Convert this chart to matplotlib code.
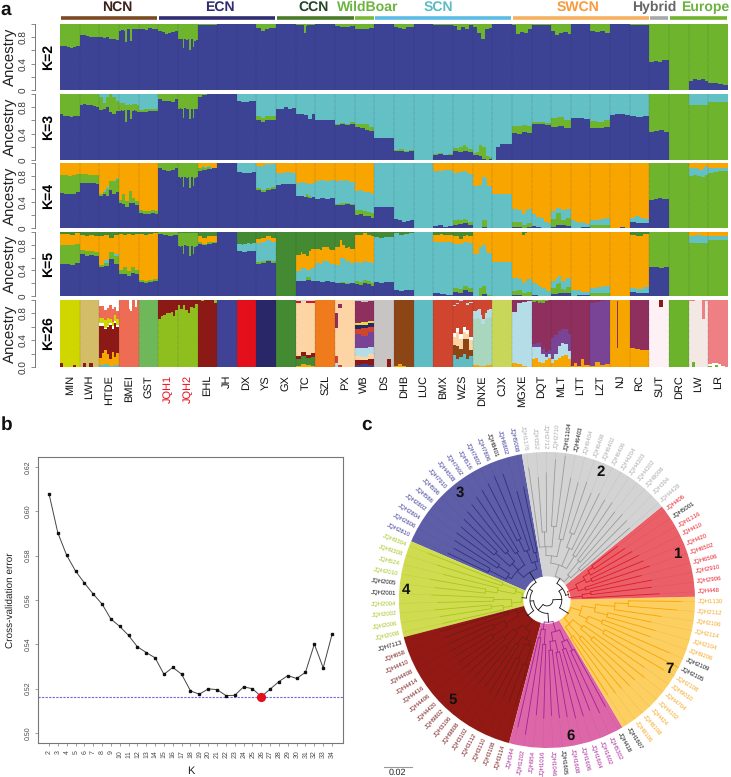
import numpy as np
import matplotlib
matplotlib.use("Agg")
import matplotlib.pyplot as plt
from matplotlib.patches import Wedge

plt.rcParams['font.family'] = ['Liberation Sans', 'DejaVu Sans']
plt.rcParams['text.hinting'] = 'no_hinting'
plt.rcParams['text.hinting_factor'] = 1

W, H = 731, 777

populations = ["MIN","LWH","HTDE","BMEI","GST","JQH1","JQH2","EHL","JH","DX","YS","GX","TC","SZL","PX","WB","DS",
               "DHB","LUC","BMX","WZS","DNXE","CJX","MGXE","DQT","MLT","LTT","LZT","NJ","RC","SUT","DRC","LW","LR"]
red_populations = ["JQH1", "JQH2"]

groups = ["NCN","ECN","CCN","WildBoar","SCN","SWCN","Hybrid","Europe"]
group_starts = [0,5,11,15,16,23,30,31]
group_ends = [5,11,15,16,23,30,31,34]
group_bar_colors = ["#7a4a22","#2f2d70","#4a7a2a","#7ab83a","#5bbce6","#f5b060","#a8a8a8","#6eb42d"]
group_text_colors = ["#3f2018","#2f2d70","#24452a","#6cb33f","#5bbcc4","#f79a3a","#666666","#6cb33f"]
group_text_x = [117,220,314,368,438,578,654,705]

BLUE, GREEN, TEAL, ORANGE, DGREEN = "#3d4394", "#6eb42d", "#63c0c4", "#f8a500", "#438a32"

# Thickness of each layer, one entry per population (a list = sample by sample)
K2_blue = [[.67,.66,.65,.64,.65,.67],[.84,.83,.82,.80,.81,.80],[.80,.79,.81,.78,.78,.76],
           [.90,.91,.91,.90,.72,.92,.92,.75,.92,.93,.92,.92],
           [.92,.93,.91,.94,.92,.93],[.90,.88,.85,.87,.88,.90],[.77,.78,.78,.63,.77,.76,.77,.61,.77,.65,.75,.76],[.98,.98,.99,.98],1,1,
           [.94,.90,.93,.94,.94],1,[.99,.99,.99,.99,.99,.86,.97,.98,.99,.99,.99,.99],1,[.97,.96,.96,.97],[.93,.93,.93,.94],1,
           [.96,.94,.93,.95,.96],1,[.98,.98,.99],[.97,.91,.96,.93,.98],[.95,.87,.78,.92,.94],1,[.99,.85,.88,.87,.92],
           [.98,.99],[.90,.83,.86,.88,.85],1,[.89,.88,.89,.87],1,.99,[.42,.44,.43,.46,.45],0,[.13,.16,.15,.17,.14],[.10,.11,.09,.08]]

K3_blue = [[.69,.67,.66,.65,.66,.67],[.84,.85,.84,.83,.82,.81],[.76,.78,.80,.72,.70,.74],
           [.74,.75,.74,.75,.58,.76,.76,.62,.74,.75,.74,.72],
           [.72,.73,.74,.74],[.92,.90,.90,.88,.92],[.78,.79,.78,.63,.79,.78,.77,.62,.78,.64,.77,.78],[.96,.98,1,1],1,[.89,.88,.88,.89,.90],
           [.60,.58,.60,.61,.60],[.77,.78,.80,.78,.79],[.69,.70,.68,.62,.70],[.60,.60,.61,.60],[.53,.54,.53,.55],
           [.50,.48,.46,.44],[.34,.33,.34,.33],[.13,.14,.12,.13],0,[.08,.09,.07,.08],[.13,.12,.14,.12],
           [.08,.08,.06,.02,0,.02],[0,.20,.25,.25,.24],[.41,.40,.42,.41],[.54,.55,.53],[.50,.51,.49],[.63,.64,.62],
           [.49,.48,.50],[.68,.69,.70,.68],[.66,.65,.66],[.42,.44,.45,.43],0,0,0]
K3_green = [1,1,[.20,.08,.15,.28,.25,.15],[.12,.11,.12,.11,.26,.08,.09,.22,.11,.10,.11,.12],.04,1,1,[.04,.02,0,0],0,0,.06,0,0,0,.02,
            [.05,.07,.09,.06],0,.02,0,.01,[.05,.08,.05],[.02,.04,.16,.18,.06,.02],0,.11,.03,[.13,.14,.12],0,.10,0,0,1,1,.83,.88]

K4_blue = [[.54,.53,.52,.53,.55],[.70,.70,.69,.69,.68],[.50,.52,.50,.58,.52,.55],[.38,.37,.33,.39,.38,.36],
           [.23,.22,.22,.23,.22],[.92,.90,.88,.90,.92],[.78,.77,.78,.63,.78,.77,.78,.62,.78,.65,.77,.78],[.88,.90,.91,.92],1,[.86,.85,.85,.86],
           [.58,.56,.58,.60],[.66,.67,.68,.67],[.50,.49,.48,.46,.48],[.45,.46,.45,.46],[.35,.36,.37,.35],
           [.20,.21,.19,.18,.16],[.32,.32,.33,.32],[.14,.12,.10,.11,.13],0,[.03,.04,.02,.03],[.05,.06,.08,.05],
           [0,0,.02,0],0,[.02,.01,0,.01],[.03,.01,0,0],[.02,.05,.04,.03],[0,.01],0,[0,0,.01,0],[.09,.08,.08],
           [.43,.44,.46,.44,.45],0,0,0]
K4_green = [.28,.13,[.03,.03,.10,.15,.20,.20],[.05,.15,.08,.18,.08,.05],.04,1,1,[.04,.03,0],0,0,.03,0,[0,0,.04,0],0,.02,.07,
            0,0,0,0,[.08,.06,.05],[0,0,.10,0],0,[.07,.08,.04,.06],0,[.12,.18,.08,.12],0,.04,0,0,1,1,[.80,.81,.80,.79,.82],[.85,.86,.87,.88]]
K4_teal = [0,0,[0,.03,0,.02],0,0,0,0,.01,0,1,[.35,.38,.36],.18,[.20,.22,.18,.22],.28,[.36,.35,.34],.30,1,1,1,[.85,.84,.87,.86],
           [.72,.74,.73],[.65,.66,.64],[.52,.53,.52],[.20,.18,.22],[.18,.16,.15,.10,.08],[.12,.08,.15,.14],[.12,.10,.08,.06,.05],
           [.08,.09,.10,.12],0,[.07,.10,.07,.06],0,0,[.13,.12,.10,.13],[.07,.06,.05,.05]]

K5_blue = [[.50,.50,.49,.51],[.65,.63,.64,.62],[.45,.47,.58,.50],[.35,.34,.32,.36,.35],[.22,.21,.22,.23],[.97,.95,.93,.95],
           [.78,.77,.78,.65,.79,.78,.78,.63,.78,.66,.77,.78],[.82,.80,.82,.83],1,[.70,.69,.70,.71],[.50,.52,.54,.52],0,[.24,.23,.25,.24],[.23,.22,.23,.22],
           [.20,.21,.19,.20],[.18,.17,.20,.18,.16],[.22,.21,.22,.22],[.10,.08,.09,.10],0,[.04,.03,.02],[.06,.05,.09,.07],
           [0,0,.03,0],0,[.02,0],[.02,0,0],[.03,.05,.04],[0,.01,.01],0,0,[.06,.05,.05],[.45,.46,.44,.45],0,0,0]
K5_green = [.30,.07,[.03,.05,.10,.12],[.05,.12,.07,.10,.06],.03,1,[.20,.21,.20,.33,.19,.20,.20,.35,.20,.32,.21,.20],.02,0,0,.03,0,[0,0,.04,0],0,.01,.05,
            0,0,0,0,.06,[0,.12,.02],0,[.06,.08,.04,.07],0,[.10,.15,.06,.10],0,.05,0,0,1,1,.83,.88]
K5_teal = [0,0,[0,.04,0,.03],0,0,0,0,0,0,[.11,.13,.12],.30,0,[.15,.20,.12,.20],[.28,.32,.28],[.28,.38,.35,.30],.30,.70,.88,1,
           [.80,.82,.83],.70,.65,.53,[.20,.17,.19],[.18,.16,.12,.08],[.10,.12,.14],[.10,.08,.05,.05],[.08,.09,.10],0,[.07,.06,.09],0,0,
           [.10,.12,.10],[.06,.05,.05]]
K5_orange = [.17,.24,[.45,.40,.22,.30],[.57,.50,.58,.50,.56],.72,0,0,.09,0,0,.06,0,[.25,.22,.30],.22,[.28,.20,.22],.43,0,0,0,
             [.12,.10],[.12,.08,.10],.35,.47,.75,1,1,1,1,1,.83,0,0,1,1]

PAL = dict(lime="#cfd600", khaki="#d3bd66", salmon="#ee6b54", gst="#6fb85a", olive="#8fbf1f", dr="#8b1a16", jh="#3f4295",
           red="#e30f1a", navy="#2a2768", dg="#438a32", peach="#fdd5a5", szl="#f07b1c", gray="#c8c4c4", brown="#8c4616",
           teal="#5fbcc2", bmx="#cf452d", mint="#a9d7bd", cjx="#c8d75a", lblue="#b5dde8", plum="#8e2f5e", purple="#7a4496",
           orange="#f7a600", sut="#fdf1f5", drc="#6cb32c", lw="#f3e8e4", lr="#ee7f83", white="#ffffff", yellow="#e6d84a")

# K=26: (colour, thickness) bottom to top, the last layer fills up to 1
K26 = [
 [("dr",[.06,0,0,0,.03,0]),("lime",1)],
 [("dr",[0,.06,0,.06,0,0]),("khaki",1)],
 [("teal",[.03,.04,.02,.03]),("orange",[.10,.18,.22,.15,.10,.20,.12,.18]),("dr",[.48,.40,.30,.40,.50,.35,.50,.38]),
  ("white",[.04,.02,.04,.03]),("lime",[.08,.12,.06,.10]),("salmon",[.18,.15,.20,.12]),("white",1)],
 [("salmon",[1,1,1,1,1,1,.86,.84,1,1,.90,1]),("white",1)],
 [("gst",1)],
 [("olive",[.72,.76,.78,.80,.80,.82,.76,.85]),("dr",1)],
 [("olive",[.92,.86,.92,.85,.80,.90,.88,.94]),("dr",1)],
 [("dr",[1,.98,1,1,1,.96]),("olive",1)],
 [("jh",1)], [("red",1)], [("navy",1)], [("dg",1)],
 [("orange",[.02,.04,.03,.02]),("dg",[.10,.12,.10,.13]),("dr",[.04,.06,.05,.06]),("peach",[.80,.76,.78,.75]),("red",[.02,.01,.02,.02]),("lblue",1)],
 [("szl",1)],
 [("lblue",[.06,0,0,0,0,0]),("bmx",[.10,.03,0,0,0,0]),("peach",[.42,.85,1,1,1,1]),("plum",[.22,.06,0,0,0,0]),("peach",1)],
 [("jh",[.03,.04,.03]),("dr",[.08,.06,.09]),("peach",[.06,.05,.08]),("lblue",[.12,.14,.10]),("purple",[.20,.18,.22]),
  ("bmx",[.08,.11,.07]),("navy",[.06,.05,.07]),("yellow",[.03,.04,.02]),("plum",[.32,.30,.30]),("gray",1)],
 [("dr",[0,0,0,.12,0]),("gray",1)],
 [("orange",[.01,.05,.01,0,0]),("brown",1)],
 [("teal",1)],
 [("bmx",1)],
 [("teal",[.18,.12,.15,.20,.12,.16]),("brown",[.15,.20,.12,.22,.30,.10]),("peach",[.12,.20,.15,.10,.08,.14]),("white",[.06,.08,.05]),
  ("bmx",[.40,.36,.48,.40,.38,.50]),("lblue",[.02,.03,.02]),("bmx",1)],
 [("orange",[.03,.02,.03]),("mint",[.68,.70,.62,.70,.72]),("lblue",[.12,.14,.08,.12]),("bmx",1)],
 [("cjx",1)],
 [("orange",[.06,.04,.01,0]),("lblue",[.76,.92,.96,.98]),("plum",1)],
 [("orange",[.12,.14,.08,.06,.10,.14]),("lblue",[.18,.16,.22,.14,.05,.06]),("purple",[.05,.06,.07,.08,.05]),("plum",[.62,.62,.60,.68,.76,.75]),("drc",1)],
 [("orange",[.06,.10,.14,.16,.18,.12]),("lblue",[.06,.10,.18,.20,.16,.12]),("purple",[.32,.28,.22,.20,.22,.26]),("plum",1)],
 [("orange",[.02,.06,.02,.12,.03,.03]),("plum",1)],
 [("orange",[.01,.07,.03,.05]),("purple",[.94,.90,.95,.95]),("plum",1)],
 [("orange",[1,1,1,1,.28,1,1,1,1,1,1,1]),("plum",[0,0,0,0,.70,0,0,0,0,0,0,0]),("orange",1)],
 [("orange",[.28,.27,.26,.26]),("plum",1)],
 [("sut",[1,1,1,.9,1,1]),("dr",[0,0,0,.1,0,0]),("sut",1)],
 [("drc",1)],
 [("drc",[0,.08,0,0,0,0]),("lw",[.98,.90,1,1,.72,.98]),("lr",1)],
 [("drc",[.02,0,.03,0,0,0]),("white",[.02,.06,.03,.04,.02,0]),("lr",1)],
]

K_vals = list(range(2, 35))
cv_error = [.608,.5903,.5802,.5731,.5677,.5627,.5582,.5514,.5481,.544,.5389,.5363,.5339,.5265,.5296,.5265,.519,.5175,
            .5199,.5196,.5169,.517,.5208,.52,.5164,.5198,.5232,.5259,.5246,.5274,.5401,.5294,.5445]
best_K = 26

# Panel c: labels counter-clockwise, first gap starting at the grey / blue border
clade_names = ["3","4","5","6","7","1","2"]
clade_fill = ["#5e5ea8","#cfdc4f","#931a14","#dd66a8","#fdce60","#ea5f68","#d3d3d3"]
clade_line = ["#2f2f80","#a9c61a","#6e1a14","#a0209a","#f7a600","#e01a25","#9a9a9a"]
clade_text = ["#3b3b98","#a4c520","#7a1a1a","#a8289a","#f5a623","#e8202a","#aaaaaa"]
clade_label_xy = [(460,493),(406,590),(453,700),(571,736),(670,669),(677,554),(601,472)]
labels3 = ["JQH5008","JQH6802","JQH8401","JQH7806","JQH7802","JQH516","JQH7902","JQH4508","JQH7910","JQH596","JQH586","JQH2802","JQH2804","JQH2806","JQH2810"]
labels4 = ["JQH9304","JQH9308","JQH524","JQH2010","JQH2005","JQH2001","JQH2004","JQH2002","JQH2006","JQH2008"]
labels5 = ["JQH7113","JQH658","JQH4410","JQH4408","JQH4414","JQH4416","JQH4406","JQH4420","JQH9802","JQH3106","JQH9808","JQH3102","JQH3112","JQH3110","JQH3108","JQH3114"]
labels6 = ["JQH344","JQH1202","JQH954","JQH1016","JQH1046","JQH1605","JQH1608","JQH1606","JQH1604","JQH1602","JQH5302","JQH418"]
labels7 = ["JQH1607","JQH8106","JQH8108","JQH424","JQH4102","JQH4704","JQH9010","JQH2108","JQH2105","JQH2109","JQH9206","JQH2104","JQH2114","JQH2106","JQH2112","JQH1130"]
labels1 = ["JQH448","JQH2906","JQH2910","JQH6506","JQH6502","JQH420","JQH410","JQH1116","JQH5001","JQH406"]
labels2 = ["JQH4428","JQH394","JQH8008","JQH4302","JQH4303","JQH4204","JQH6406","JQH6402","JQH6408","JQH6404","JQH6403","JQH11104","JQH2710","JQH2712","JQH352","JQH1176"]
black_labels = ["JQH8401","JQH2005","JQH2001","JQH7113","JQH1605","JQH418","JQH1607","JQH2105","JQH2109","JQH5001","JQH6403","JQH11104"]

# Trees: (node radius, children, clade index); a bare number is a leaf tip radius (1 = sector edge)
T3 = (.22,[(.27,[(.33,[.78,.76]),(.36,[.90,(.45,[.91,.88])])]),(.28,[(.38,[.86,.84]),(.34,[(.42,[.82,.80]),(.47,[.78,.76])]),(.31,[(.40,[.76,.74]),(.44,[.72,.74])])])],0)
T4 = (.17,[(.22,[(.32,[.86,.78]),(.34,[.72,(.42,[.80,.76])])]),(.24,[(.36,[.78,.74]),(.30,[(.38,[.76,.73]),.72])])],1)
T5 = (.17,[(.22,[(.28,[.75,.74]),(.32,[(.40,[.72,.74]),(.44,[.73,.72])])]),(.24,[(.30,[(.38,[.74,.72]),(.42,[.71,.73])]),(.30,[(.36,[.72,.73]),(.33,[(.44,[.74,.72]),(.46,[.73,.74])])])])],2)
T6 = (.15,[(.20,[(.26,[.88,.92]),(.30,[.78,.80])]),(.22,[(.28,[(.34,[.78,.80]),(.36,[.80,.82])]),(.30,[(.35,[.82,.80]),(.38,[.84,.82])])])],3)
T7 = (.17,[(.22,[(.30,[.76,.78]),(.34,[.78,.80]),(.30,[(.40,[.80,.84]),.80])]),(.24,[(.30,[(.44,[.92,.99]),(.40,[.90,.74])]),(.33,[(.42,[.76,.72]),(.46,[.78,(.55,[.88,.91])])])])],4)
T1 = (.15,[(.24,[.76,(.30,[.71,.72])]),(.22,[(.27,[.66,.73]),(.29,[(.33,[.70,.69]),(.34,[.66,(.38,[.63,.60])])])])],5)
T2 = (.17,[(.22,[(.30,[.74,.76]),(.34,[.77,.75])]),(.25,[(.35,[.79,.78]),(.38,[.80,(.48,[.78,.84])]),(.30,[(.42,[.82,.84]),(.36,[(.50,[.98,.95]),(.46,[.86,.83]),.90])])])],6)
ROOT = (.04,[(.09,[(.115,[(.14,[T3,T4]),T5]),T6]),(.10,[T7,(.13,[T1,T2])])])

# ---------------------------------------------------------------------------
fig = plt.figure(figsize=(W/100, H/100), dpi=100, facecolor="white")

def add_ax(x0, y0, x1, y1, **kw):
    return fig.add_axes([x0/W, 1-y1/H, (x1-x0)/W, (y1-y0)/H], **kw)

SLOTS = 24
slot_x = np.linspace(0, 1, SLOTS+1)

def expand(entry):
    v = np.atleast_1d(np.asarray(entry, dtype=float))
    return v[(np.arange(SLOTS)*len(v))//SLOTS]

def draw_pop(ax, p, layers):
    """layers: (colour, thickness). Draw tallest first so no seams appear."""
    tops, cum = [], np.zeros(SLOTS)
    for col, th in layers:
        cum = np.minimum(cum + expand(th), 1)
        tops.append((col, cum.copy()))
    tops[-1] = (tops[-1][0], np.ones(SLOTS))
    for col, t in reversed(tops):
        ax.fill_between(p+slot_x, 0, np.r_[t, t[-1]], step="post", color=col, lw=0, antialiased=False)

def style_a(ax, k_label, zero):
    ax.set_xlim(0, 34); ax.set_ylim(0, 1)
    for s in ["top","right","bottom"]:
        ax.spines[s].set_visible(False)
    ax.spines["left"].set_position(("outward", 18))
    ax.spines["left"].set_color("#777777")
    ax.spines["left"].set_linewidth(.7)
    ax.set_yticks([0,.2,.4,.6,.8,1])
    ax.set_yticklabels([zero,"","0.4","","0.8",""], rotation=90, va="center", fontsize=7.5, color="#333333")
    ax.tick_params(axis="y", length=3, width=.6, color="#777777", pad=1.5)
    ax.set_xticks([])
    ax.set_ylabel("Ancestry", fontsize=11, color="#222222", labelpad=2)
    fig.text(48/W, (ax.get_position().y0+ax.get_position().y1)/2, k_label, rotation=90, ha="center", va="center",
             fontsize=10, fontweight="bold")
    for b in range(1, 34):
        ax.axvline(b, color="#222244", lw=.35, ls=(0,(1,1.5)), alpha=.6)

rows = [(24,90),(94,160),(163,228),(232,296),(300,367)]
X0, X1 = 60, 728
K_PANELS = [("K=2",[(BLUE,K2_blue),(GREEN,[1]*34)],"0"),
            ("K=3",[(BLUE,K3_blue),(GREEN,K3_green),(TEAL,[1]*34)],"0"),
            ("K=4",[(BLUE,K4_blue),(GREEN,K4_green),(TEAL,K4_teal),(ORANGE,[1]*34)],"0"),
            ("K=5",[(BLUE,K5_blue),(GREEN,K5_green),(TEAL,K5_teal),(ORANGE,K5_orange),(DGREEN,[1]*34)],"0")]
axes_a = []
for (y0, y1), (name, comps, zero) in zip(rows[:4], K_PANELS):
    ax = add_ax(X0, y0, X1, y1)
    for p in range(34):
        draw_pop(ax, p, [(c, arr[p]) for c, arr in comps])
    style_a(ax, name, zero)
    axes_a.append(ax)

ax = add_ax(X0, rows[4][0], X1, rows[4][1])
for p, pop in enumerate(K26):
    draw_pop(ax, p, [(PAL[c], th) for c, th in pop])
style_a(ax, "K=26", "0.0")
ax.set_xticks(np.arange(34)+.5)
ax.set_xticklabels(populations, rotation=90, fontsize=8, ha="center", va="top")
ax.tick_params(axis="x", length=0, pad=5.8)
for t in ax.get_xticklabels():
    t.set_color("#e8101c" if t.get_text() in red_populations else "#111111")

top = axes_a[0]
for name, a, b, bc, tc, tx in zip(groups, group_starts, group_ends, group_bar_colors, group_text_colors, group_text_x):
    top.plot([a+.04, b-.04], [1.09, 1.09], color=bc, lw=2.6, solid_capstyle="butt", clip_on=False)
    fig.text(tx/W, 1-7/H, name, color=tc, fontsize=10.2, fontweight="bold", ha="center", va="center")

for s, x, y in [("a",6,15),("b",7,430),("c",367,430)]:
    fig.text(x/W, 1-y/H, s, fontsize=13.5, fontweight="bold", ha="center", va="baseline", color="#111111")

# Panel b -------------------------------------------------------------------
axb = add_ax(38, 457, 343, 743)
axb.set_xlim(.76, 35.24); axb.set_ylim(.4955, .6245)
axb.axhline(cv_error[K_vals.index(best_K)], color="#6a66e0", lw=.8, ls=(0,(2,1.2)), zorder=1)
axb.plot(K_vals, cv_error, color="#444444", lw=.7, marker="s", ms=2.1, mfc="#111111", mec="#111111", zorder=2)
axb.plot([best_K], [cv_error[K_vals.index(best_K)]], "o", color="#e3101c", ms=5.6, zorder=3)
axb.set_xticks(K_vals)
axb.set_xticklabels(K_vals, rotation=90, fontsize=4.8, color="#444444")
yt = [.50,.52,.54,.56,.58,.60,.62]
axb.set_yticks(yt)
axb.set_yticklabels(["%.2f" % v for v in yt], rotation=90, va="center", fontsize=4.8, color="#444444")
axb.tick_params(length=2.5, width=.5, color="#777777", pad=2.5)
for s in axb.spines.values():
    s.set_color("#777777"); s.set_linewidth(.8)
axb.set_xlabel("K", fontsize=8, color="#222222", labelpad=6)
axb.set_ylabel("Cross-validation error", fontsize=7.4, color="#222222", labelpad=7)

# Panel c -------------------------------------------------------------------
axc = fig.add_axes([0, 0, 1, 1], facecolor="none")
axc.set_xlim(0, W); axc.set_ylim(0, H); axc.axis("off")
CX, CY, R = 547, H-600, 148
START = 99.8
label_groups = [labels3, labels4, labels5, labels6, labels7, labels1, labels2]
n_leaf = sum(len(g) for g in label_groups)
STEP = 360/n_leaf

def pol(r, deg):
    t = np.radians(deg)
    return CX + r*R*np.cos(t), CY + r*R*np.sin(t)

a = START
for i, g in enumerate(label_groups):
    b = a + len(g)*STEP
    axc.add_patch(Wedge((CX, CY), R, a, b, width=R*(1-.16), fc=clade_fill[i], ec="none", zorder=1))
    a = b

leaf_counter = [0]
def draw(node, color):
    if isinstance(node, float):
        ang = START + (leaf_counter[0]+.5)*STEP
        leaf_counter[0] += 1
        x0, y0 = pol(node, ang); x1, y1 = pol(1, ang)
        axc.plot([x0, x1], [y0, y1], color="#000000", alpha=.07, lw=.35, zorder=2)
        return ang, node
    if len(node) == 3:
        color = clade_line[node[2]]
    r, kids = node[0], node[1]
    results = [draw(k, color) for k in kids]
    angs = [q[0] for q in results]
    lo, hi = min(angs), max(angs)
    arc = np.linspace(lo, hi, 40)
    xa, ya = pol(r, arc)
    axc.plot(xa, ya, color=color, lw=.6, zorder=3, solid_capstyle="round")
    for an, rc in results:
        xx, yy = pol(np.array([r, rc]), an)
        axc.plot(xx, yy, color=color, lw=.6, zorder=3, solid_capstyle="round")
    return (lo+hi)/2, r
draw(ROOT, "#111111")

k = 0
for i, g in enumerate(label_groups):
    for name in g:
        ang = START + (k+.5)*STEP
        x, y = pol((R+3)/R, ang)
        norm = ang % 360
        left = 90 < norm < 270
        col = "#111111" if name in black_labels else clade_text[i]
        axc.text(x, y, name, rotation=norm-180 if left else (norm if norm <= 90 else norm-360),
                 rotation_mode="anchor", ha="right" if left else "left", va="center", fontsize=4.6, color=col, zorder=4)
        k += 1

for name, (x, y) in zip(clade_names, clade_label_xy):
    axc.text(x, H-y, name, fontsize=10.5, fontweight="bold", ha="center", va="center", color="#111111", zorder=5)

axc.plot([384, 412], [H-767, H-767], color="#999999", lw=.8)
axc.text(397, H-773, "0.02", fontsize=6.5, ha="center", va="center", color="#222222")

fig.savefig("out.png", dpi=100)
